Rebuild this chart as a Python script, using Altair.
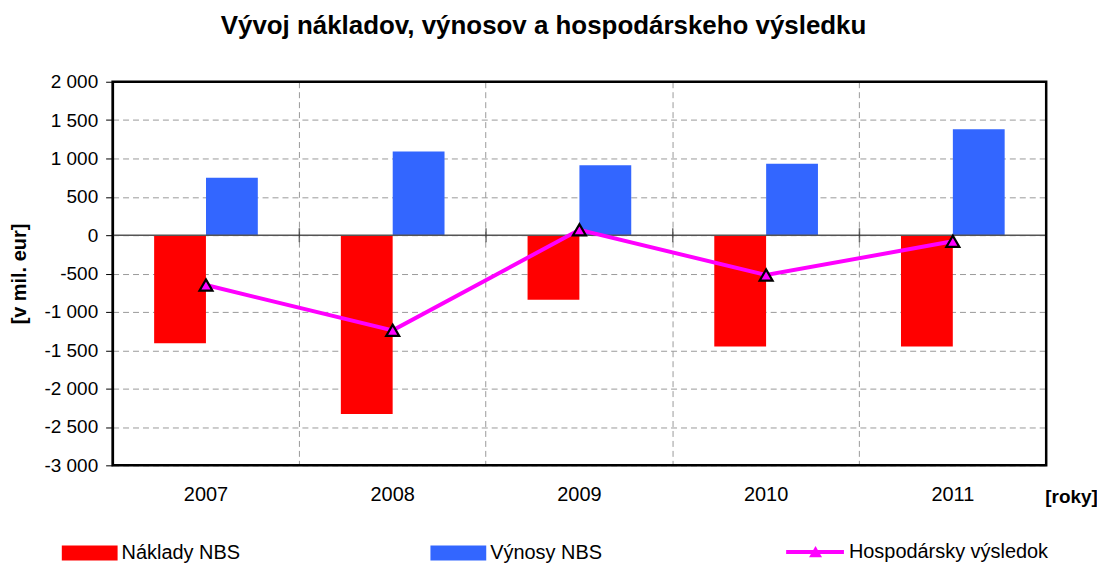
import altair as alt
import pandas as pd

years = ["2007", "2008", "2009", "2010", "2011"]
naklady = [-1410, -2330, -840, -1450, -1450]
vynosy = [750, 1090, 910, 930, 1380]
vysledok = [-650, -1240, 70, -520, -80]

series_names = ["Náklady NBS", "Výnosy NBS"]
line_name = "Hospodársky výsledok"
y_ticks = [2000, 1500, 1000, 500, 0, -500, -1000, -1500, -2000, -2500, -3000]

bars_df = pd.DataFrame(
    {
        "rok": years * 2,
        "seria": [series_names[0]] * len(years) + [series_names[1]] * len(years),
        "hodnota": naklady + vynosy,
    }
)
line_df = pd.DataFrame(
    {"rok": years, "hodnota": vysledok, "seria": [line_name] * len(years), "seria2": [line_name] * len(years)}
)
zero_df = pd.DataFrame({"nula": [0]})
tick_df = pd.DataFrame({"rok": years[1:], "nula": [0] * (len(years) - 1)})
frame_df = pd.DataFrame({"ramec": [1]})

FONT = "Liberation Sans"
W, H = 937, 385

x_scale = alt.Scale(paddingInner=0, paddingOuter=0)
x_axis = alt.Axis(
    title="[roky]",
    titleFont=FONT,
    titleFontSize=19,
    titleFontWeight="bold",
    titleAngle=0,
    titleX=962,
    titleY=31,
    titleAlign="center",
    titleBaseline="middle",
    labelFont=FONT,
    labelFontSize=20,
    labelAngle=0,
    labelPadding=19,
    labelColor="black",
    ticks=False,
    domain=False,
    grid=True,
    gridDash=[6, 4],
    gridColor="#9a9a9a",
    gridWidth=1,
    bandPosition=0,
)

y_scale = alt.Scale(domain=[-3000, 2000], nice=False, zero=False)
y_axis = alt.Axis(
    title="[v mil. eur]",
    titleFont=FONT,
    titleFontSize=20,
    titleFontWeight="bold",
    titleX=-93,
    titleY=H / 2,
    titleAlign="center",
    titleBaseline="middle",
    values=y_ticks,
    labelExpr="replace(replace(format(datum.value, ','), ',', ' '), '\u2212', '-')",
    labelOverlap=False,
    labelFont=FONT,
    labelFontSize=19,
    labelColor="black",
    labelPadding=8,
    tickColor="black",
    tickSize=7,
    tickWidth=1,
    domainColor="black",
    domainWidth=2,
    grid=True,
    gridDash=[6, 4],
    gridColor="#9a9a9a",
    gridWidth=1,
)


def X():
    return alt.X("rok:N", sort=years, scale=x_scale, axis=x_axis)


def Y(field):
    return alt.Y(field, scale=y_scale, axis=y_axis)


bars = alt.Chart(bars_df).mark_bar(size=52).encode(
    x=X(),
    xOffset=alt.XOffset("seria:N", sort=series_names, scale=alt.Scale(paddingInner=0, paddingOuter=0.8)),
    y=Y("hodnota:Q"),
    color=alt.Color(
        "seria:N",
        sort=series_names,
        scale=alt.Scale(domain=series_names, range=["#FF0000", "#3366FF"]),
        legend=alt.Legend(
            title=None,
            orient="none",
            legendX=62 - 113,
            legendY=554 - 81 - 28,
            direction="horizontal",
            symbolType="M-1,-0.27H1V0.27H-1Z",
            symbolSize=3136,
            symbolStrokeWidth=0,
            labelFont=FONT,
            labelFontSize=20,
            labelColor="black",
            labelOffset=4,
            labelLimit=300,
            columnPadding=191,
            gridAlign="all",
            padding=0,
        ),
    ),
)

zero = alt.Chart(zero_df).mark_rule(color="#555555", strokeWidth=1.5).encode(y=Y("nula:Q"))

zero_ticks = alt.Chart(tick_df).mark_tick(orient="vertical", color="#333333", thickness=1.5, size=14).encode(
    x=alt.X("rok:N", sort=years, scale=x_scale, axis=x_axis, bandPosition=0),
    y=Y("nula:Q"),
)

frame = alt.Chart(frame_df).mark_rect(fillOpacity=0, stroke="black", strokeWidth=2.5).encode(
    x=alt.value(0),
    x2=alt.value({"expr": "width"}),
    y=alt.value(0),
    y2=alt.value({"expr": "height"}),
)

line = alt.Chart(line_df).mark_line(strokeWidth=4).encode(
    x=X(),
    y=Y("hodnota:Q"),
    stroke=alt.Stroke(
        "seria:N",
        scale=alt.Scale(domain=[line_name], range=["#FF00FF"]),
        legend=alt.Legend(
            title=None,
            orient="none",
            legendX=787 - 113,
            legendY=551 - 81 - 29,
            symbolType="stroke",
            symbolSize=3364,
            symbolStrokeWidth=4,
            labelFont=FONT,
            labelFontSize=20,
            labelColor="black",
            labelOffset=3,
            labelLimit=300,
            padding=0,
            zindex=1,
        ),
    ),
)

points = alt.Chart(line_df).mark_point(
    filled=True, fill="#FF00FF", stroke="black", strokeWidth=2.2, size=170, opacity=1
).encode(
    x=X(),
    y=Y("hodnota:Q"),
    shape=alt.Shape(
        "seria2:N",
        scale=alt.Scale(domain=[line_name], range=["triangle-up"]),
        legend=alt.Legend(
            title=None,
            orient="none",
            legendX=817 - 113 - 6.5,
            legendY=551 - 81 - 6.5,
            symbolSize=170,
            symbolFillColor="#FF00FF",
            symbolStrokeColor="black",
            symbolStrokeWidth=2.2,
            symbolOpacity=1,
            labelColor="transparent",
            labelFontSize=1,
            padding=0,
            zindex=2,
        ),
    ),
)

chart = (
    alt.layer(bars, zero, zero_ticks, frame, line, points)
    .properties(
        width=W,
        height=H,
        title=alt.TitleParams(
            "Vývoj nákladov, výnosov a hospodárskeho výsledku",
            font=FONT,
            fontSize=26,
            fontWeight="bold",
            anchor="middle",
            dx=-36,
            offset=34,
            color="black",
        ),
        autosize=alt.AutoSizeParams(type="none"),
        padding={"left": 105, "top": 73, "right": 51, "bottom": 97},
    )
    .resolve_legend(color="independent", stroke="independent", shape="independent")
    .configure_view(stroke="black", strokeWidth=2)
    .configure(background="white")
)

chart.save("out.html", embed_options={"renderer": "svg", "actions": False})
